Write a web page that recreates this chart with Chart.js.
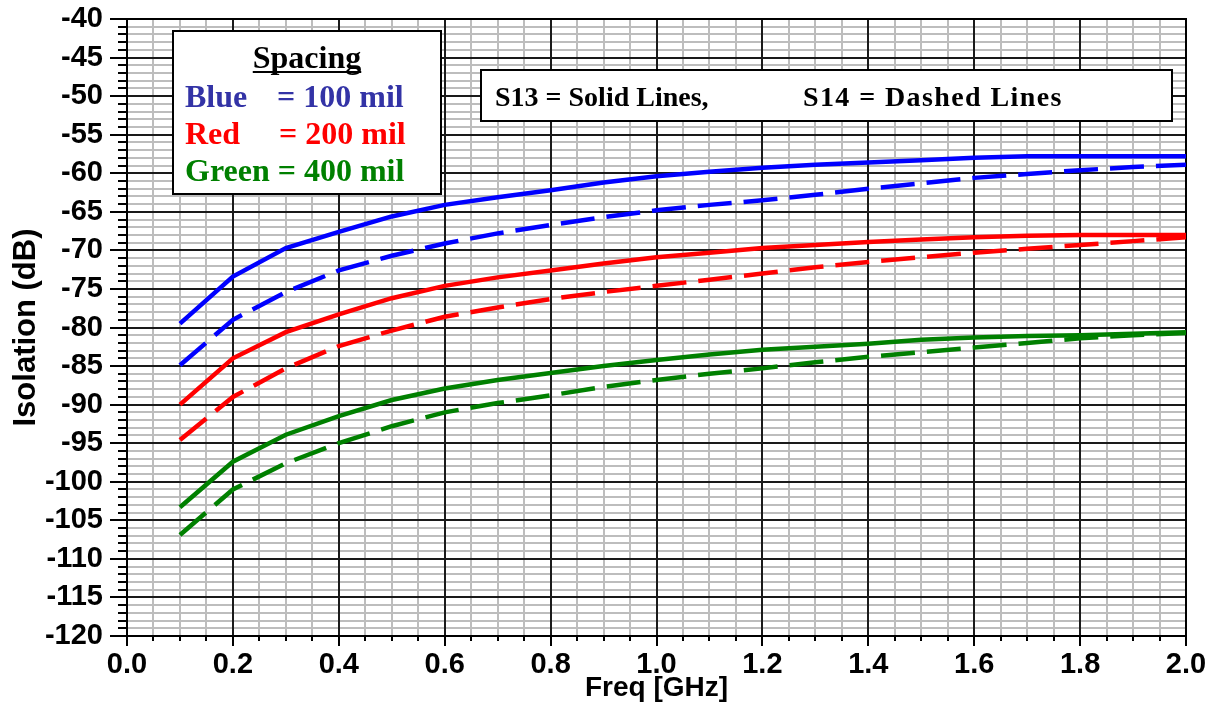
<!DOCTYPE html>
<html>
<head>
<meta charset="utf-8">
<script src="https://cdn.jsdelivr.net/npm/chart.js@4.4.1/dist/chart.umd.min.js"></script>
<style>
  html, body { margin: 0; padding: 0; background: #fff; }
  #wrap { width: 1215px; height: 706px; }
</style>
</head>
<body>
<div id="wrap"><canvas id="myChart" width="1215" height="706"></canvas></div>
<script>
// frequency points (GHz)
const freq = [0.1, 0.2, 0.3, 0.4, 0.5, 0.6, 0.7, 0.8, 0.9, 1.0,
              1.1, 1.2, 1.3, 1.4, 1.5, 1.6, 1.7, 1.8, 1.9, 2.0];

// S13 (solid) and S14 (dashed) isolation in dB, per trace spacing
const s13_100 = [-79.5, -73.4, -69.7, -67.6, -65.6, -64.1, -63.1, -62.2, -61.2, -60.4,
                 -59.8, -59.3, -58.9, -58.6, -58.3, -58.0, -57.8, -57.8, -57.8, -57.8];
const s14_100 = [-84.9, -79.0, -75.4, -72.6, -70.7, -69.1, -67.8, -66.7, -65.7, -64.8,
                 -64.1, -63.5, -62.8, -62.0, -61.3, -60.6, -60.1, -59.6, -59.2, -58.9];
const s13_200 = [-90.0, -84.0, -80.6, -78.3, -76.2, -74.6, -73.5, -72.6, -71.7, -70.9,
                 -70.3, -69.7, -69.3, -68.9, -68.6, -68.3, -68.1, -68.0, -68.0, -68.0];
const s14_200 = [-94.6, -89.0, -85.3, -82.4, -80.4, -78.6, -77.4, -76.3, -75.4, -74.6,
                 -73.8, -73.0, -72.2, -71.5, -70.9, -70.3, -69.8, -69.3, -68.8, -68.3];
const s13_400 = [-103.3, -97.4, -93.9, -91.5, -89.4, -87.9, -86.8, -85.9, -85.0, -84.2,
                 -83.5, -82.9, -82.5, -82.1, -81.6, -81.3, -81.1, -81.0, -80.8, -80.6];
const s14_400 = [-106.9, -101.0, -97.6, -95.0, -92.8, -91.0, -89.8, -88.8, -87.7, -86.8,
                 -86.0, -85.3, -84.5, -83.8, -83.2, -82.6, -82.0, -81.4, -81.0, -80.7];

// axis ranges and steps
const xMin = 0, xMax = 2, xMinorStep = 0.05, xMajorStep = 0.2;
const yMin = -120, yMax = -40, yMinorStep = 1, yMajorStep = 5;

const BLUE = '#0000ff', RED = '#ff0000', GREEN = '#008000';

const pts = (vals) => vals.map((v, i) => ({ x: freq[i], y: v }));

const line = (vals, color, dashed) => ({
  data: pts(vals),
  borderColor: color,
  borderWidth: 4.5,
  borderDash: dashed ? [34, 12] : [],
  borderCapStyle: 'butt',
  pointRadius: 0,
  tension: 0,
  fill: false
});

const isMajorX = (v) => Math.round(v * 100) % Math.round(xMajorStep * 100) === 0;
const isMajorY = (v) => Math.round(v) % yMajorStep === 0;

// graph-paper grid with outside tick marks
const paperGrid = {
  id: 'paperGrid',
  beforeDatasetsDraw(chart) {
    const { ctx, chartArea: a, scales: { x, y } } = chart;
    ctx.save();
    const pass = (major) => {
      ctx.beginPath();
      ctx.strokeStyle = major ? '#1a1a1a' : '#bdbdbd';
      ctx.lineWidth = 2;
      x.ticks.forEach(t => {
        if (isMajorX(t.value) !== major) return;
        const px = Math.round(x.getPixelForValue(t.value));
        ctx.moveTo(px, a.top);
        ctx.lineTo(px, a.bottom);
      });
      y.ticks.forEach(t => {
        if (isMajorY(t.value) !== major) return;
        const py = Math.round(y.getPixelForValue(t.value));
        ctx.moveTo(a.left, py);
        ctx.lineTo(a.right, py);
      });
      ctx.stroke();
    };
    pass(false);
    pass(true);

    // tick marks outside the frame
    ctx.beginPath();
    ctx.strokeStyle = '#000';
    ctx.lineWidth = 2;
    x.ticks.forEach(t => {
      const px = Math.round(x.getPixelForValue(t.value));
      ctx.moveTo(px, a.bottom);
      ctx.lineTo(px, a.bottom + (isMajorX(t.value) ? 10 : 5));
    });
    y.ticks.forEach(t => {
      const py = Math.round(y.getPixelForValue(t.value));
      ctx.moveTo(a.left, py);
      ctx.lineTo(a.left - (isMajorY(t.value) ? 17 : 9), py);
    });
    ctx.stroke();

    ctx.beginPath();
    ctx.lineWidth = 2;
    ctx.rect(Math.round(a.left), Math.round(a.top), Math.round(a.right - a.left), Math.round(a.bottom - a.top));
    ctx.stroke();
    ctx.restore();
  }
};

// the two note boxes drawn over the plot
const noteBoxes = {
  id: 'noteBoxes',
  afterDraw(chart) {
    const ctx = chart.ctx;
    ctx.save();
    const box = (x0, y0, w, h) => {
      ctx.fillStyle = '#fff';
      ctx.fillRect(x0, y0, w, h);
      ctx.strokeStyle = '#000';
      ctx.lineWidth = 2;
      ctx.strokeRect(x0, y0, w, h);
    };

    box(173, 31, 268, 163);
    ctx.textBaseline = 'alphabetic';
    ctx.font = 'bold 32px "Liberation Serif", "Times New Roman", serif';
    ctx.fillStyle = '#000';
    ctx.textAlign = 'center';
    ctx.fillText('Spacing', 307, 68);
    const sw = ctx.measureText('Spacing').width;
    ctx.fillRect(307 - sw / 2, 71, sw, 2);
    ctx.textAlign = 'left';
    ctx.fillStyle = '#3333a6';
    ctx.fillText('Blue', 185, 107);
    ctx.fillText('= 100 mil', 277, 107);
    ctx.fillStyle = RED;
    ctx.fillText('Red', 185, 144);
    ctx.fillText('= 200 mil', 279, 144);
    ctx.fillStyle = GREEN;
    ctx.fillText('Green = 400 mil', 185, 181);

    box(481, 70, 691, 51);
    ctx.fillStyle = '#000';
    ctx.font = 'bold 28px "Liberation Serif", "Times New Roman", serif';
    ctx.fillText('S13 = Solid Lines,', 495, 106);
    ctx.letterSpacing = '1.4px';
    ctx.fillText('S14 = Dashed Lines', 803, 106);
    ctx.restore();
  }
};

const tickFont = { family: '"Liberation Sans", Arial, sans-serif', size: 29, weight: 'bold' };
const xTitleFont = { family: '"Liberation Sans", Arial, sans-serif', size: 28, weight: 'bold' };
const yTitleFont = { family: '"Liberation Sans", Arial, sans-serif', size: 31, weight: 'bold' };

const ctx = document.getElementById('myChart').getContext('2d');
const myChart = new Chart(ctx, {
  type: 'line',
  data: {
    datasets: [
      line(s13_100, BLUE, false),
      line(s14_100, BLUE, true),
      line(s13_200, RED, false),
      line(s14_200, RED, true),
      line(s13_400, GREEN, false),
      line(s14_400, GREEN, true)
    ]
  },
  options: {
    responsive: false,
    animation: false,
    events: [],
    layout: { padding: { top: 19, right: 29, left: 0, bottom: 0 } },
    plugins: { legend: { display: false }, tooltip: { enabled: false } },
    scales: {
      x: {
        type: 'linear',
        min: xMin,
        max: xMax,
        afterFit: (s) => { s.height = 70; s.paddingLeft = 0; s.paddingRight = 0; },
        grid: { display: false, drawTicks: false },
        border: { display: false },
        ticks: {
          stepSize: xMinorStep,
          autoSkip: false,
          maxRotation: 0,
          padding: 12,
          color: '#000',
          font: tickFont,
          callback: (v) => isMajorX(v) ? (Math.round(v * 10) / 10).toFixed(1) : ''
        },
        title: { display: true, text: 'Freq [GHz]', color: '#000', font: xTitleFont, padding: { top: 0, bottom: 1 } }
      },
      y: {
        type: 'linear',
        min: yMin,
        max: yMax,
        afterFit: (s) => { s.width = 127; s.paddingTop = 0; s.paddingBottom = 0; },
        grid: { display: false, drawTicks: false },
        border: { display: false },
        ticks: {
          stepSize: yMinorStep,
          autoSkip: false,
          padding: 24,
          color: '#000',
          font: tickFont,
          callback: (v) => isMajorY(v) ? String(Math.round(v)) : ''
        },
        title: { display: true, text: 'Isolation (dB)', color: '#000', font: yTitleFont, padding: { top: 8, bottom: 0 } }
      }
    }
  },
  plugins: [paperGrid, noteBoxes]
});
</script>
</body>
</html>
